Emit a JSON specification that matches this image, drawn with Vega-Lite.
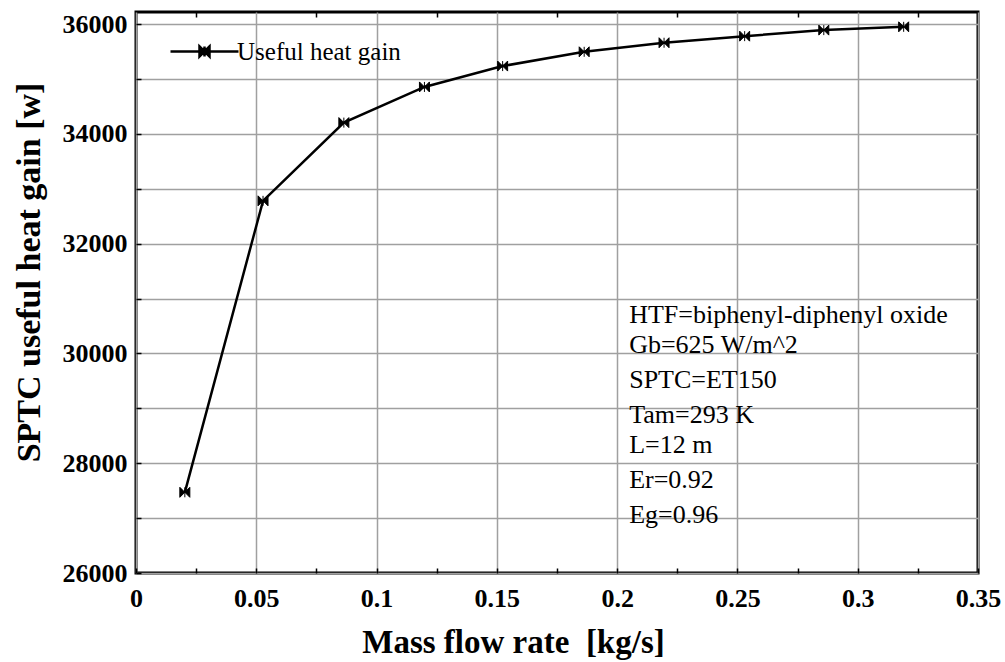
{
  "$schema": "https://vega.github.io/schema/vega-lite/v6.json",
  "width": 842,
  "height": 561,
  "autosize": "none",
  "padding": {"left": 136, "top": 12, "right": 27, "bottom": 89},
  "background": "white",
  "config": {
    "view": {"stroke": "black", "strokeWidth": 3},
    "font": "Liberation Serif",
    "axis": {"domain": false, "gridColor": "#a0a0a0", "gridWidth": 1.5, "tickColor": "black", "tickWidth": 1.5, "tickSize": -5}
  },
  "layer": [
    {
      "data": {"values": [
        {"x": 0.0203, "y": 27470, "series": "Useful heat gain"},
        {"x": 0.0528, "y": 32780, "series": "Useful heat gain"},
        {"x": 0.0864, "y": 34205, "series": "Useful heat gain"},
        {"x": 0.1199, "y": 34855, "series": "Useful heat gain"},
        {"x": 0.1524, "y": 35235, "series": "Useful heat gain"},
        {"x": 0.1863, "y": 35495, "series": "Useful heat gain"},
        {"x": 0.2195, "y": 35660, "series": "Useful heat gain"},
        {"x": 0.2530, "y": 35780, "series": "Useful heat gain"},
        {"x": 0.2859, "y": 35890, "series": "Useful heat gain"},
        {"x": 0.3191, "y": 35950, "series": "Useful heat gain"}
      ]},
      "encoding": {
        "x": {"field": "x", "type": "quantitative",
          "scale": {"domain": [0, 0.35], "nice": false, "zero": false},
          "axis": {
            "orient": "bottom",
            "values": [0, 0.025, 0.05, 0.075, 0.1, 0.125, 0.15, 0.175, 0.2, 0.225, 0.25, 0.275, 0.3, 0.325, 0.35],
            "labelExpr": "abs(datum.value*20 - round(datum.value*20)) < 0.001 ? format(datum.value, '.2~f') : ''",
            "gridOpacity": {"condition": {"test": "abs(datum.value*20 - round(datum.value*20)) < 0.001", "value": 1}, "value": 0},
            "labelFont": "Liberation Serif", "labelFontWeight": "bold", "labelFontSize": 26, "labelColor": "black",
            "labelPadding": 17, "labelFlush": false, "labelOverlap": false,
            "title": "Mass flow rate \u00a0[kg/s]",
            "titleFont": "Liberation Serif", "titleFontWeight": "bold", "titleFontSize": 33, "titleColor": "black",
            "titleX": 377, "titleY": 53
          }
        },
        "y": {"field": "y", "type": "quantitative",
          "scale": {"domain": [26000, 36220], "nice": false, "zero": false},
          "axis": {
            "values": [26000, 27000, 28000, 29000, 30000, 31000, 32000, 33000, 34000, 35000, 36000],
            "labelExpr": "datum.value % 2000 == 0 ? format(datum.value, 'd') : ''",
            "labelFont": "Liberation Serif", "labelFontWeight": "bold", "labelFontSize": 26, "labelColor": "black",
            "labelPadding": 14, "labelFlush": false, "labelOverlap": false,
            "title": "SPTC useful heat gain [w]",
            "titleFont": "Liberation Serif", "titleFontWeight": "bold", "titleFontSize": 34, "titleColor": "black",
            "titleX": -90, "titleY": 260
          }
        }
      },
      "layer": [
        {
          "mark": {"type": "line", "strokeWidth": 2.5},
          "encoding": {
            "color": {"field": "series", "type": "nominal",
              "scale": {"range": ["black"]},
              "legend": {
                "title": null, "orient": "none", "legendX": 56, "legendY": 27, "padding": 0,
                "symbolType": "M-6.8,0H6.8M-1,-1L0,0L-1,1ZM1,-1L0,0L1,1ZM0,-1V1",
                "symbolSize": 100, "symbolStrokeWidth": 2.5, "symbolFillColor": "black", "symbolStrokeColor": "black",
                "labelFont": "Liberation Serif", "labelFontSize": 25, "labelColor": "black", "labelOffset": 20, "labelLimit": 400
              }
            }
          }
        },
        {
          "mark": {"type": "point", "filled": true, "color": "black", "opacity": 1, "size": 100, "strokeWidth": 1, "stroke": "black",
            "shape": "M-1,-1L0,0L-1,1ZM1,-1L0,0L1,1ZM0,-1V1"}
        }
      ]
    },
    {
      "data": {"values": [
        {"x": 0.205, "y": 30691, "label": "HTF=biphenyl-diphenyl oxide"},
        {"x": 0.205, "y": 30145, "label": "Gb=625 W/m^2"},
        {"x": 0.205, "y": 29509, "label": "SPTC=ET150"},
        {"x": 0.205, "y": 28873, "label": "Tam=293 K"},
        {"x": 0.205, "y": 28327, "label": "L=12 m"},
        {"x": 0.205, "y": 27691, "label": "Er=0.92"},
        {"x": 0.205, "y": 27055, "label": "Eg=0.96"}
      ]},
      "mark": {"type": "text", "align": "left", "baseline": "middle", "font": "Liberation Serif", "fontSize": 26, "color": "black"},
      "encoding": {
        "x": {"field": "x", "type": "quantitative",
          "scale": {"domain": [0, 0.35], "nice": false, "zero": false},
          "axis": {"orient": "top", "values": [0.025, 0.075, 0.125, 0.175, 0.225, 0.275, 0.325], "labels": false, "grid": false, "title": null, "tickSize": -5}
        },
        "y": {"field": "y", "type": "quantitative", "scale": {"domain": [26000, 36220], "nice": false, "zero": false}},
        "text": {"field": "label"}
      }
    }
  ],
  "resolve": {"axis": {"x": "independent"}}
}
